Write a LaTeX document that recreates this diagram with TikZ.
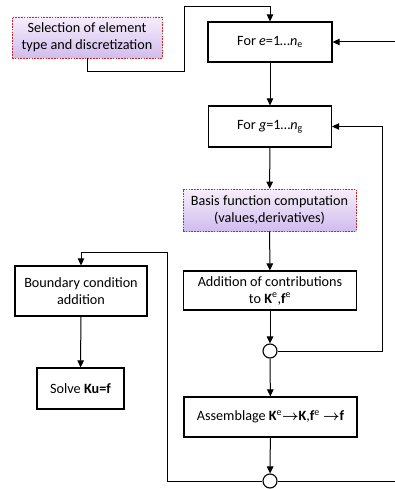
\documentclass[tikz,border=0pt]{standalone}
\usepackage{fontspec}
\setmainfont{Carlito}
\usetikzlibrary{arrows.meta,shadows}
\definecolor{hlred}{RGB}{200,40,40}
\definecolor{lavtop}{RGB}{247,238,250}
\definecolor{lavbot}{RGB}{208,188,238}
\newcommand{\boldto}{{\boldmath$\rightarrow$}}
\begin{document}
\begin{tikzpicture}[x=1pt,y=-1pt,
  font=\fontsize{14.2}{17}\selectfont,
  box/.style={draw=black,line width=1.2pt,fill=white,align=center,
    inner sep=0pt,minimum width=#1},
  hibox/.style={draw=hlred,line width=0.8pt,dash pattern=on 1.6pt off 1.2pt,
    top color=lavtop,bottom color=lavbot,align=center,inner sep=0pt,
    minimum width=#1,drop shadow={opacity=0.25,shadow xshift=1pt,shadow yshift=-1pt}},
  junction/.style={circle,draw=black,line width=1.1pt,fill=white,
    minimum size=14pt,inner sep=0pt},
  flow/.style={line width=1pt,-{Triangle[length=7pt,width=6.5pt]}},
  wire/.style={line width=1pt}]
  \fill[white] (0,0) rectangle (395,489);
  \useasboundingbox (0,0) rectangle (395,489);

  % process steps
  \node[hibox=150pt,minimum height=41pt] (sel) at (87,37.5)
    {Selection of element\\type and discretization};
  \node[box=124pt,minimum height=40pt] (fore) at (270,42)
    {For \textit{e}=1\ldots\textit{n}\textsubscript{e}};
  \node[box=123pt,minimum height=41pt] (forg) at (270,126.5)
    {For \textit{g}=1\ldots\textit{n}\textsubscript{g}};
  \node[hibox=173pt,minimum height=42pt] (basis) at (269.5,210)
    {Basis function computation\\(values,derivatives)};
  \node[box=173pt,minimum height=39pt] (add) at (270,290.5)
    {Addition of contributions\\to \textbf{K}\textsuperscript{e},\textbf{f}\textsuperscript{e}};
  \node[box=132pt,minimum height=50pt] (bc) at (81,291)
    {Boundary condition\\addition};
  \node[box=87pt,minimum height=41pt] (solve) at (80.5,388.5)
    {Solve \textbf{Ku=f}};
  \node[box=173pt,minimum height=40pt] (asm) at (270.5,417)
    {Assemblage \textbf{K}\textsuperscript{e}\boldto\textbf{K},\textbf{f}\textsuperscript{e} \boldto\textbf{f}};
  \node[junction] (c1) at (270,351) {};
  \node[junction] (c2) at (270,481) {};
  \coordinate (inE) at (395,42);
  \coordinate (outE) at (395,481);

  % connectors
  \draw[flow] (sel.south) -- (87,72) -- (184,72) -- (184,7) -- (270,7) -- (fore.north);
  \draw[flow] (inE) -- (fore.east);
  \draw[flow] (fore) -- (forg);
  \draw[flow] (forg) -- (basis);
  \draw[flow] (basis) -- (add);
  \draw[flow] (add) -- (c1);
  \draw[flow] (c1) -- (asm);
  \draw[flow] (asm) -- (c2);
  \draw[flow] (c1.east) -- (382,351) |- (forg.east);
  \draw[flow] (c2.west) -- (167,481) -- (167,252) -| (bc.north);
  \draw[wire] (c2.east) -- (outE);
  \draw[flow] (bc) -- (solve);
\end{tikzpicture}
\end{document}
